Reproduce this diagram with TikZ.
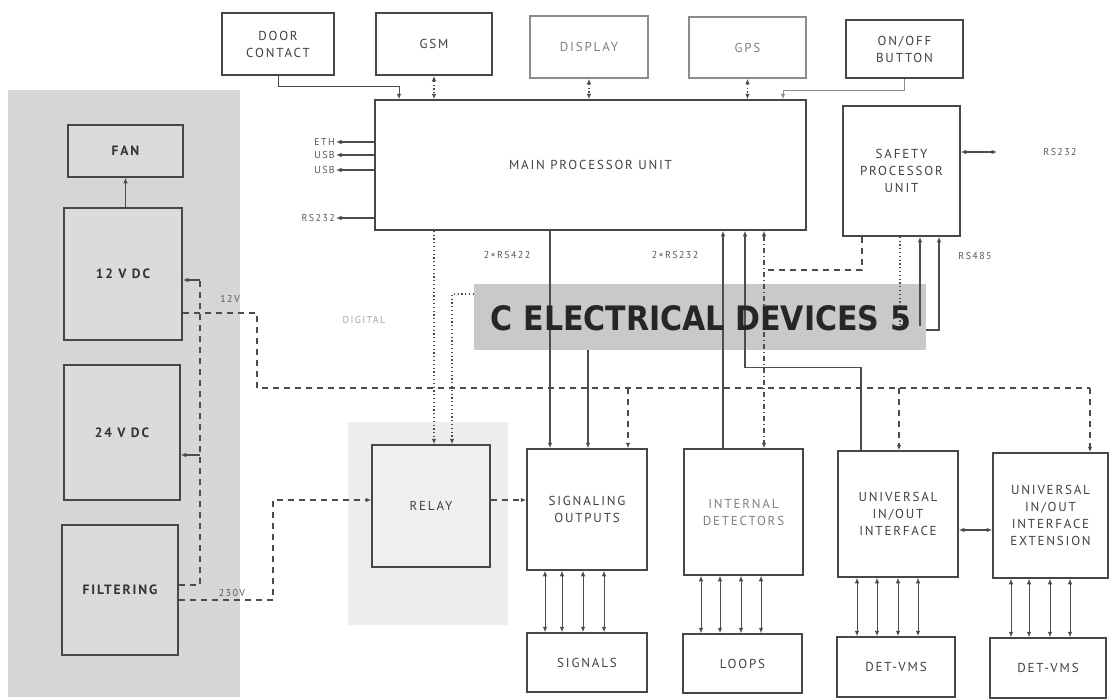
\documentclass[tikz,border=0pt]{standalone}
\usepackage{fontspec}
\setmainfont{PT Sans}
\newfontfamily\boxfont[LetterSpace=14]{PT Sans}
\newfontfamily\bandfont{DejaVu Sans}
\usepackage{graphicx}
\usetikzlibrary{arrows.meta,calc}
\begin{document}
\begin{tikzpicture}[x=1pt,y=-1pt,
  >={Latex[length=5.5pt,width=4.5pt]},
  box/.style={draw=black!72,line width=1.5pt,fill=white,align=center,inner sep=0pt,text=black!75,font=\boxfont\fontsize{13}{17}\selectfont},
  fbox/.style={box,draw=black!45,text=black!50},
  pbox/.style={box,fill=gray!28,font=\boxfont\bfseries\fontsize{13.5}{16}\selectfont,text=black!80},
  ln/.style={draw=black!70,line width=1.3pt},
  dashln/.style={ln,line width=1.5pt,dash pattern=on 6pt off 5pt},
  dotln/.style={ln,line width=1.6pt,dash pattern=on 1.2pt off 2.6pt},
  dashdotln/.style={ln,dash pattern=on 5pt off 3pt on 1pt off 3pt},
  lab/.style={font=\boxfont\fontsize{10}{11}\selectfont,text=black!65,inner sep=1pt},
]
\useasboundingbox (0,0) rectangle (1110,699);
\fill[white] (0,0) rectangle (1110,699);

% backgrounds
\fill[gray!32] (8,90) rectangle (240,697);
\fill[gray!14] (348,422) rectangle (508,625);
\node[fill=gray!42,minimum width=452pt,minimum height=66pt,inner sep=0pt] (band) at (700,317) {};

% helper coordinates
\foreach \v in {399,434,452,550,588,628,723,745,764,783,861,899,900,920,939,862}{\coordinate (c\v) at (\v,0);}
\foreach \v in {500,530,585,600,313}{\coordinate (y\v) at (0,\v);}

% power panel
\node[pbox,minimum width=115pt,minimum height=52pt] (fan) at (125.5,151) {FAN};
\node[pbox,minimum width=118pt,minimum height=132pt] (v12) at (123,274) {12 V DC};
\node[pbox,minimum width=116pt,minimum height=135pt] (v24) at (122,432.5) {24 V DC};
\node[pbox,minimum width=116pt,minimum height=130pt] (filt) at (120,590) {FILTERING};

% top row
\node[box,minimum width=112pt,minimum height=62pt] (door) at (278,44) {DOOR\\CONTACT};
\node[box,minimum width=116pt,minimum height=62pt] (gsm) at (434,44) {GSM};
\node[fbox,minimum width=118pt,minimum height=62pt] (disp) at (589,47) {DISPLAY};
\node[fbox,minimum width=117pt,minimum height=61pt] (gps) at (747.5,47.5) {GPS};
\node[box,minimum width=117pt,minimum height=58pt] (onoff) at (904.5,49) {ON/OFF\\BUTTON};

\node[box,minimum width=431pt,minimum height=130pt] (main) at (590.5,165) {MAIN PROCESSOR UNIT};
\node[box,minimum width=117pt,minimum height=130pt] (safety) at (901.5,171) {SAFETY\\PROCESSOR\\UNIT};

% bottom rows
\node[box,fill=gray!12,minimum width=118pt,minimum height=122pt] (relay) at (431,506) {RELAY};
\node[box,minimum width=120pt,minimum height=121pt] (sig) at (587,509.5) {SIGNALING\\OUTPUTS};
\node[box,text=black!50,minimum width=119pt,minimum height=126pt] (intd) at (743.5,512) {INTERNAL\\DETECTORS};
\node[box,minimum width=120pt,minimum height=126pt] (univ) at (898,514) {UNIVERSAL\\IN/OUT\\INTERFACE};
\node[box,minimum width=115pt,minimum height=125pt] (ext) at (1050.5,515.5) {UNIVERSAL\\IN/OUT\\INTERFACE\\EXTENSION};
\node[box,minimum width=120pt,minimum height=59pt] (signals) at (587,662.5) {SIGNALS};
\node[box,minimum width=119pt,minimum height=59pt] (loops) at (742.5,663.5) {LOOPS};
\node[box,minimum width=118pt,minimum height=60pt] (det1) at (896,667) {DET-VMS};
\node[box,minimum width=116pt,minimum height=60pt] (det2) at (1048,668) {DET-VMS};

% top connections
\draw[ln,line width=1pt,->] (door.south) -- ++(0,11) -| (main.north -| c399);
\draw[dotln,<->] (gsm.south) -- (main.north -| gsm.south);
\draw[dotln,<->] (disp.south) -- (main.north -| disp.south);
\draw[dotln,<->] (gps.south) -- (main.north -| gps.south);
\draw[ln,draw=black!45,line width=1pt,->] (onoff.south) -- ++(0,12) -| (main.north -| c783);

% left labels of main
\node[lab,anchor=east] (eth) at (336,142) {ETH};
\node[lab,anchor=east] (usb1) at (336,155) {USB};
\node[lab,anchor=east] (usb2) at (336,170) {USB};
\node[lab,anchor=east] (rsl) at (336,218) {RS232};
\foreach \n in {eth,usb1,usb2,rsl}{\draw[ln,->] (main.west |- \n) -- (\n.east);}

% safety right
\node[lab] (rsr) at (1060,152) {RS232};
\coordinate (rsrc) at (997,152);
\draw[ln,<->] (safety.east |- rsr) -- (rsrc);

% labels below
\node[lab] (l422) at (507,255) {2×RS422};
\node[lab] (l232) at (675,255) {2×RS232};
\node[lab] (l485) at (975,256) {RS485};
\node[lab,text=black!35] (ldig) at (364,320) {DIGITAL};

% main/safety to lower blocks
\coordinate (bl) at (474,294);
\draw[dotln,->] (main.south -| c434) -- (relay.north -| c434);
\draw[dotln,->] (bl) -- (bl -| c452) -- (relay.north -| c452);
\draw[ln,->] (main.south -| c550) -- (sig.north -| c550);
\draw[ln,->] (band.south -| c588) -- (sig.north -| c588);
\draw[ln,->] (intd.north -| c723) -- (main.south -| c723);
\draw[ln,->] (univ.north -| c861) -- ++(0,-83) -| (main.south -| c745);
\draw[dashdotln,<->] (main.south -| c764) -- (intd.north -| c764);
\coordinate (sj) at (768,270);
\draw[dashln] (safety.south -| c862) |- (sj);
\coordinate (c900b) at (900,326);
\draw[dotln] (safety.south -| c900) -- (c900b);
\coordinate (c920b) at (920,326);
\draw[ln,->] (c920b) -- (safety.south -| c920);
\coordinate (be) at (926,330);
\draw[ln,->] (be) -| (safety.south -| c939);

% power lines
\draw[ln,->] (v12.north -| fan.south) -- (fan.south);
\coordinate (pj) at (200,280);
\coordinate (pj2) at (200,455);
\draw[dashln,line width=1.7pt] (filt.east |- y585) -| (pj);
\draw[ln,->] (pj) -- (v12.east |- pj);
\draw[ln,->] (pj2) -- (v24.east |- pj2);
\coordinate (h1) at (257,388);
\coordinate (hr) at (1090,388);
\draw[dashln] (v12.east |- y313) -| (h1) -- (hr);
\draw[dashln,->] (hr) -- (ext.north -| hr);
\draw[dashln,->] (h1 -| c628) -- (sig.north -| c628);
\draw[dashln,->] (h1 -| c899) -- (univ.north -| c899);
\node[lab] (l12) at (230,299) {12V};
\coordinate (fr) at (273,500);
\draw[dashln,->] (filt.east |- y600) -| (fr) -- (relay.west |- fr);
\node[lab] (l230) at (232,593) {230V};
\draw[dashln,->] (relay.east |- y500) -- (sig.west |- y500);
\draw[ln,<->] (univ.east |- y530) -- (ext.west |- y530);

% bottom bundles
\foreach \x in {545,562,583,604}{\coordinate (t) at (\x,0); \draw[ln,line width=1pt,<->] (sig.south -| t) -- (signals.north -| t);}
\foreach \x in {701,720,741,761}{\coordinate (t) at (\x,0); \draw[ln,line width=1pt,<->] (intd.south -| t) -- (loops.north -| t);}
\foreach \x in {857,877,898,918}{\coordinate (t) at (\x,0); \draw[ln,line width=1pt,<->] (univ.south -| t) -- (det1.north -| t);}
\foreach \x in {1011,1029,1050,1070}{\coordinate (t) at (\x,0); \draw[ln,line width=1pt,<->] (ext.south -| t) -- (det2.north -| t);}

% band text
\node[text=black!85,inner sep=0pt] (bandtext) at (701,318) {\resizebox{420pt}{25pt}{\bandfont\bfseries C ELECTRICAL DEVICES 5}};
\end{tikzpicture}
\end{document}
